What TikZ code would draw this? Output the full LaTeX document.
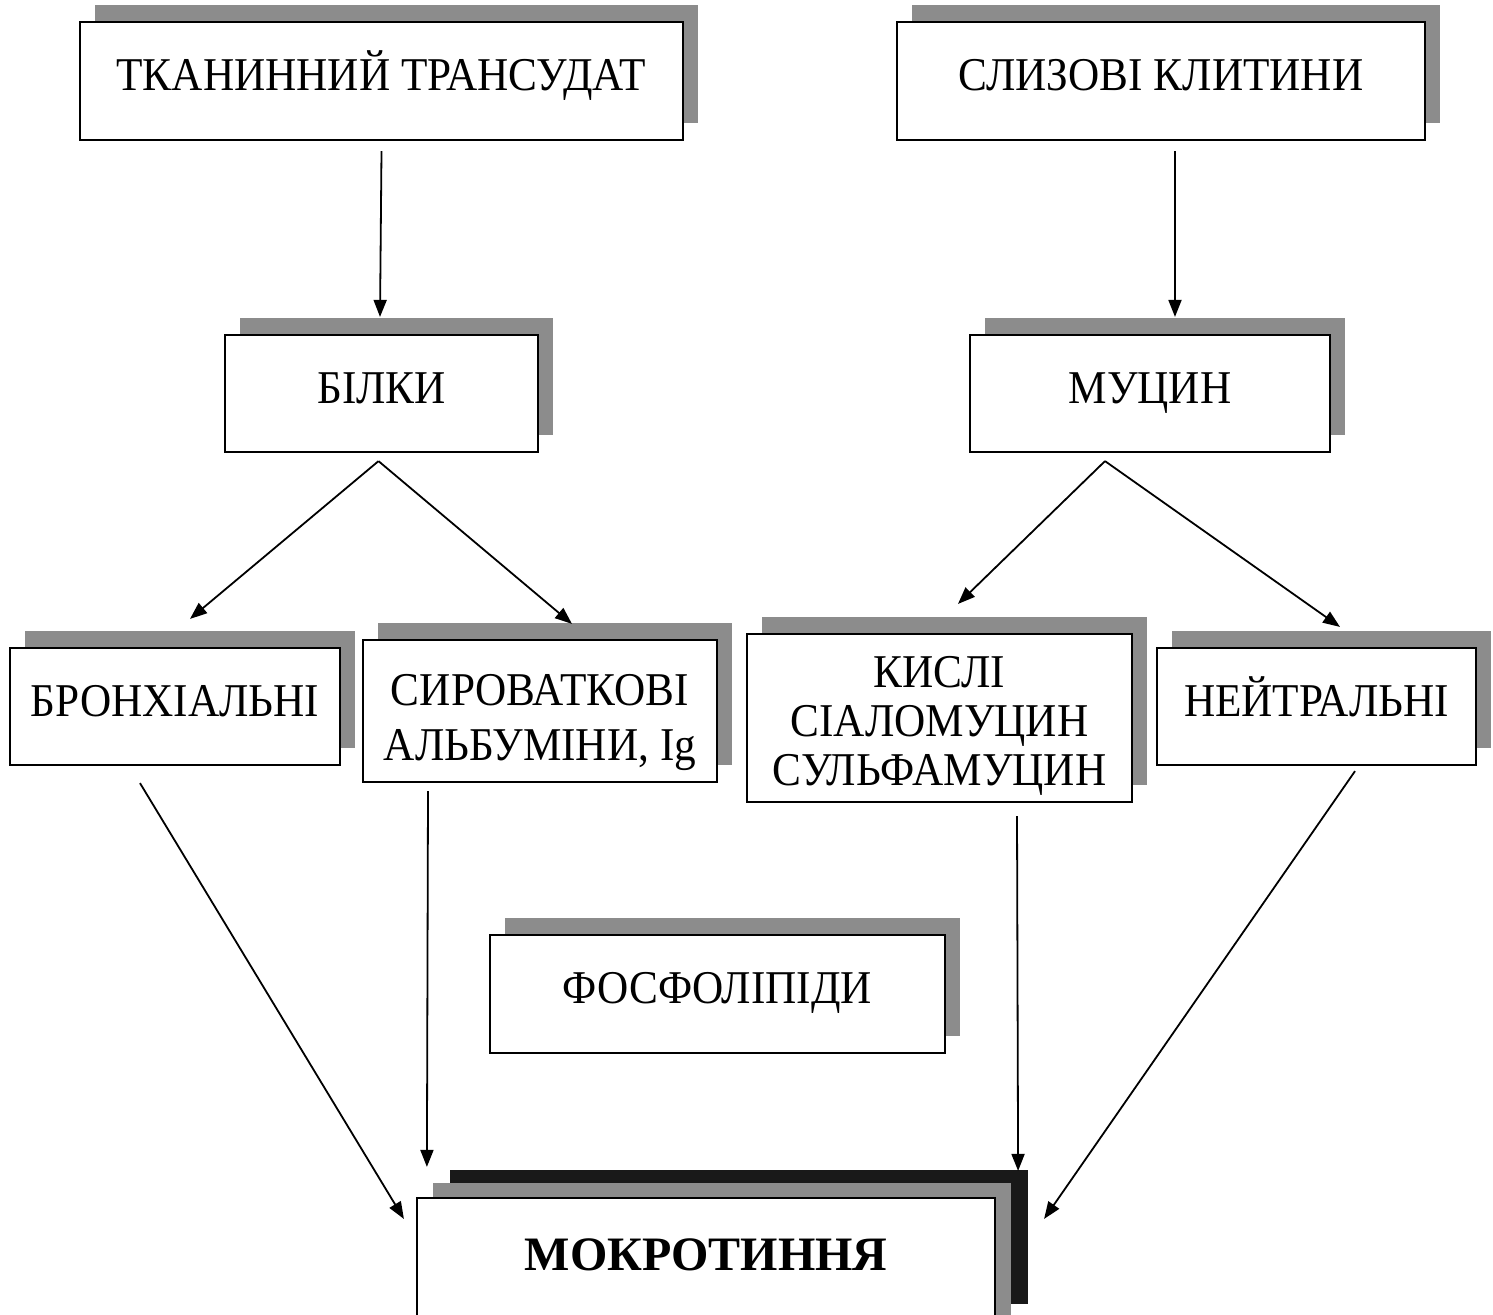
\documentclass[tikz,border=0pt]{standalone}
\usepackage{fontspec}
\setmainfont{Liberation Serif}
\newfontfamily\cnd{Liberation Serif}[FakeStretch=0.92]
\usetikzlibrary{shadows,arrows.meta}
\newcommand{\stk}[2]{\raisebox{#1}[\height][\depth]{\begin{tabular}{@{}c@{}}#2\end{tabular}}}
\begin{document}
\begin{tikzpicture}[x=0.5pt,y=-0.5pt,
  box/.style={draw, line width=1.1pt, fill=white, inner sep=0pt,
    font=\cnd\fontsize{23.5}{27}\selectfont,
    general shadow={fill=black!45, shadow xshift=7.5pt, shadow yshift=8.5pt}},
  one/.style={text height=15.6pt, text depth=6pt},
  arr/.style={line width=0.9pt, -{Triangle[length=8.5pt,width=6.5pt]}}]
\useasboundingbox (0,0) rectangle (1493,1314);
\node[box, one, minimum width=301.5pt, minimum height=59pt] (t1) at (381.5,81) {ТКАНИННИЙ ТРАНСУДАТ};
\node[box, one, minimum width=264pt, minimum height=59pt] (t2) at (1161,81) {СЛИЗОВІ КЛИТИНИ};
\node[box, one, minimum width=156.5pt, minimum height=58.5pt] (bilky) at (381.5,393.5) {БІЛКИ};
\node[box, one, minimum width=180pt, minimum height=58.5pt] (mucyn) at (1150,393.5) {МУЦИН};
\node[box, one, minimum width=165pt, minimum height=58.5pt] (bronch) at (175,706.5) {БРОНХІАЛЬНІ};
\node[box, minimum width=177pt, minimum height=71pt] (syrov) at (540,711) {\stk{-5.6pt}{СИРОВАТКОВІ\\[0.5pt]АЛЬБУМІНИ, Ig}};
\node[box, minimum width=192.5pt, minimum height=84pt] (kysli) at (939.5,718) {\stk{-3.9pt}{КИСЛІ\\[-2.5pt]СІАЛОМУЦИН\\[-2.5pt]СУЛЬФАМУЦИН}};
\node[box, one, minimum width=159.5pt, minimum height=58.5pt] (neitr) at (1316.5,706.5) {НЕЙТРАЛЬНІ};
\node[box, one, minimum width=227.5pt, minimum height=59pt] (fosfo) at (717.5,994) {ФОСФОЛІПІДИ};
\node[draw, line width=1.1pt, fill=white, inner sep=0pt, minimum width=289pt, minimum height=67pt,
  font=\fontsize{24}{28}\selectfont\bfseries, text height=15.9pt, text depth=10pt,
  general shadow={fill=black!90, shadow xshift=16.5pt, shadow yshift=14pt},
  general shadow={fill=black!45, shadow xshift=8pt, shadow yshift=7.5pt}]
  (mokr) at (706,1265) {МОКРОТИННЯ};
\draw[arr] ([shift={(0,10)}]t1.south) -- ([shift={(-1.5,-17)}]bilky.north);
\draw[arr] ([shift={(14,10)}]t2.south) -- ([shift={(25,-17)}]mucyn.north);
\draw[arr] ([shift={(-3,8)}]bilky.south) -- ([shift={(15,-28)}]bronch.north);
\draw[arr] ([shift={(-3,8)}]bilky.south) -- ([shift={(32,-15)}]syrov.north);
\draw[arr] ([shift={(-45,8)}]mucyn.south) -- ([shift={(18.5,-29)}]kysli.north);
\draw[arr] ([shift={(-45,8)}]mucyn.south) -- ([shift={(23.5,-20)}]neitr.north);
\draw[arr] ([shift={(-35,17)}]bronch.south) -- ([shift={(-12,22)}]mokr.north west);
\draw[arr] ([shift={(-112,8)}]syrov.south) -- ([shift={(11,-30)}]mokr.north west);
\draw[arr] ([shift={(77.5,13)}]kysli.south) -- ([shift={(22,-26)}]mokr.north east);
\draw[arr] ([shift={(38.5,5)}]neitr.south) -- ([shift={(48,22)}]mokr.north east);
\end{tikzpicture}
\end{document}
